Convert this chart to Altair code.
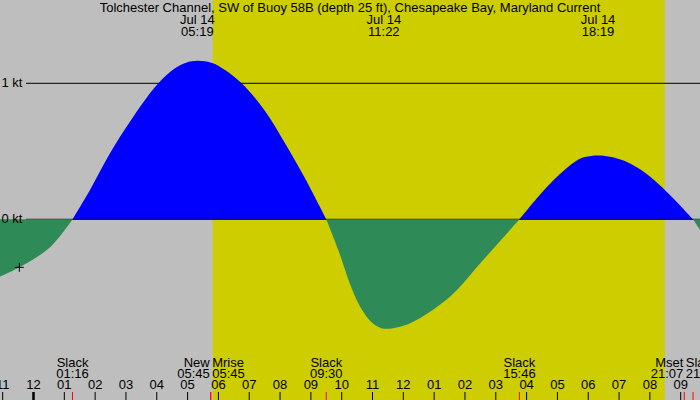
import altair as alt
import numpy as np
import pandas as pd

TITLE = "Tolchester Channel, SW of Buoy 58B (depth 25 ft), Chesapeake Bay, Maryland Current"
DATE_LABEL = "Jul 14"

# Current speed (knots, flood > 0, ebb < 0) against hours after midnight, Jul 14
hours = [-1.087, -0.46, 0.536, 1.267, 1.833, 2.482, 3.238, 4.049, 4.591, 4.95,
         5.317, 5.8, 6.214, 6.755, 7.511, 8.16, 8.809, 9.5, 9.89, 10.27,
         10.54, 10.81, 11.08, 11.367, 11.89, 12.43, 13.51, 14.59, 15.767, 16.49,
         17.03, 17.57, 17.89, 18.317, 18.76, 19.27, 19.73, 20.27, 20.81, 21.4,
         21.626]
knots = [-0.422, -0.353, -0.206, 0.0, 0.215, 0.485, 0.754, 1.0, 1.11, 1.152,
         1.166, 1.15, 1.098, 1.0, 0.796, 0.559, 0.302, 0.0, -0.226, -0.476,
         -0.618, -0.716, -0.777, -0.804, -0.79, -0.74, -0.569, -0.299, 0.0, 0.195,
         0.322, 0.424, 0.458, 0.47, 0.458, 0.42, 0.36, 0.262, 0.142, 0.0,
         -0.079]

# Maximum flood / ebb times labelled along the top
extreme_times = ["05:19", "11:22", "18:19"]

# Events labelled along the bottom
event_names = ["Slack", "New", "Mrise", "Slack", "Slack", "Mset", "Slack"]
event_times = ["01:16", "05:45", "05:45", "09:30", "15:46", "21:07", "21:24"]

# Daylight span
sunrise, sunset = "05:49", "20:29"

# Hour ticks (hours after midnight) and their labels
tick_hours = list(range(-1, 22))
tick_labels = ["11", "12", "01", "02", "03", "04", "05", "06", "07", "08", "09", "10",
               "11", "12", "01", "02", "03", "04", "05", "06", "07", "08", "09"]

# Reference levels (knots)
levels = [1, 0]
level_labels = ["1 kt", "0 kt"]

# Current-time marker
now_hour, now_knots = -0.46, -0.353

FONT = "Liberation Sans"
GREY, DAY, FLOOD, EBB = "#bebebe", "#cdcd00", "#0000ff", "#2e8b57"


def to_hours(hhmm):
    h, m = hhmm.split(":")
    return int(h) + int(m) / 60.0


xs = alt.Scale(domain=[-1.087, 21.626], nice=False, zero=False)
ys = alt.Scale(domain=[-1.3287, 1.6125], nice=False, zero=False)

# Split the curve into flood / ebb lobes at each slack point
rows, seg = [], 0
for h, v in zip(hours, knots):
    rows.append(dict(h=h, v=v, seg=seg))
    if v == 0:
        seg += 1
        rows.append(dict(h=h, v=v, seg=seg))
curve = pd.DataFrame(rows)
lobe_sum = curve.groupby("seg")["v"].transform("sum")
curve["dir"] = np.where(lobe_sum > 0, "flood", "ebb")

X = lambda f="h": alt.X(f"{f}:Q", scale=xs, axis=None)
Y = lambda f="v": alt.Y(f"{f}:Q", scale=ys, axis=None)

daylight = alt.Chart(pd.DataFrame({"a": [to_hours(sunrise)], "b": [to_hours(sunset)]})).mark_rect(
    color=DAY).encode(x=X("a"), x2="b:Q", y=alt.value(0), y2=alt.value(400))

lev = pd.DataFrame({"level": levels, "label": level_labels})
one_line = alt.Chart(lev[lev.level == 1]).mark_rule(color="black", strokeWidth=1).encode(
    y=Y("level"), x=alt.value(26), x2=alt.value(700))
zero_line = alt.Chart(lev[lev.level == 0]).mark_rule(color="black", strokeWidth=1).encode(
    y=Y("level"), x=alt.value(26), x2=alt.value(700))

flood = alt.Chart(curve[curve.dir == "flood"]).mark_area(
    color=FLOOD, interpolate="catmull-rom").encode(x=X(), y=Y(), y2=alt.datum(0), detail="seg:N")
ebb = alt.Chart(curve[curve.dir == "ebb"]).mark_area(
    color=EBB, interpolate="catmull-rom").encode(x=X(), y=Y(), y2=alt.datum(0), detail="seg:N")

level_text = alt.Chart(lev).mark_text(
    font=FONT, fontSize=13, align="left", baseline="middle", color="black").encode(
    x=alt.value(1.5), y=Y("level"), text="label:N")

now_mark = alt.Chart(pd.DataFrame({"h": [now_hour], "v": [now_knots]})).mark_point(
    shape="M-1,0L1,0M0,-1L0,1", size=81, filled=False, stroke="black", strokeWidth=1,
    opacity=1).encode(x=X(), y=Y())

title = alt.Chart(pd.DataFrame({"t": [TITLE]})).mark_text(
    font=FONT, fontSize=13, align="center", baseline="alphabetic", color="black").encode(
    x=alt.value(350), y=alt.value(12), text="t:N")

ext = pd.DataFrame({"h": [to_hours(t) for t in extreme_times], "time": extreme_times,
                    "date": DATE_LABEL})
ext_date = alt.Chart(ext).mark_text(font=FONT, fontSize=13, align="center",
                                    baseline="alphabetic", color="black").encode(
    x=X(), y=alt.value(24), text="date:N")
ext_time = alt.Chart(ext).mark_text(font=FONT, fontSize=13, align="center",
                                    baseline="alphabetic", color="black").encode(
    x=X(), y=alt.value(36), text="time:N")

# Event labels: lone events are centred; events that crowd each other are split
# either side of the first one's tick.
ev = pd.DataFrame({"name": event_names, "time": event_times,
                   "h": [to_hours(t) for t in event_times]})
align, anchor = [], []
i = 0
while i < len(ev):
    if i + 1 < len(ev) and ev.h[i + 1] - ev.h[i] < 0.5:
        align += ["right", "left"]
        anchor += [ev.h[i], ev.h[i]]
        i += 2
    else:
        align.append("center")
        anchor.append(ev.h[i])
        i += 1
ev["align"] = align
ev["anchor"] = anchor

event_layers = []
for a, dx in [("center", 0), ("right", -1), ("left", 1.5)]:
    sub = ev[ev["align"] == a]
    for field, ypix in [("name", 367), ("time", 378)]:
        event_layers.append(
            alt.Chart(sub).mark_text(font=FONT, fontSize=13, align=a, dx=dx,
                                     baseline="alphabetic", color="black").encode(
                x=X("anchor"), y=alt.value(ypix), text=f"{field}:N"))

ticks = pd.DataFrame({"h": tick_hours, "label": tick_labels})
hour_text = alt.Chart(ticks).mark_text(font=FONT, fontSize=13, align="center",
                                       baseline="alphabetic", color="black").encode(
    x=X(), y=alt.value(389), text="label:N")
hour_ticks = alt.Chart(ticks[ticks.h != 0]).mark_rule(color="black", strokeWidth=1).encode(
    x=X(), y=alt.value(392), y2=alt.value(400))
midnight_tick = alt.Chart(ticks[ticks.h == 0]).mark_rule(color="black", strokeWidth=2.5).encode(
    x=X(), y=alt.value(392), y2=alt.value(400))
event_ticks = alt.Chart(ev).mark_rule(color="red", strokeWidth=1).encode(
    x=X(), y=alt.value(392), y2=alt.value(400))

chart = alt.layer(
    daylight, one_line, flood, zero_line, ebb, level_text, now_mark,
    title, ext_date, ext_time, *event_layers,
    hour_text, hour_ticks, midnight_tick, event_ticks,
).properties(
    width=700, height=400, padding=0,
    autosize=alt.AutoSizeParams(type="none"), background=GREY,
).configure_view(stroke=None)

chart.save("out.html", embed_options={"renderer": "svg", "actions": False})
